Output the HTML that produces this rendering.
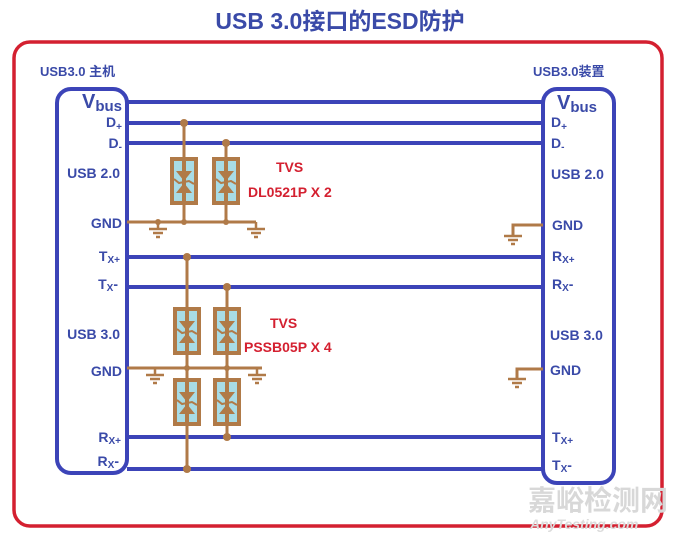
<!DOCTYPE html>
<html><head><meta charset="utf-8"><style>
html,body{margin:0;padding:0;background:#fff;width:680px;height:542px;overflow:hidden}
svg text{font-family:"Liberation Sans","Noto Sans CJK SC",sans-serif;font-weight:bold}
</style></head><body>
<svg width="680" height="542" viewBox="0 0 680 542" xmlns="http://www.w3.org/2000/svg">
<defs>
<g id="tvs">
 <rect x="-12" y="0" width="24" height="44" fill="#a8dce6" stroke="#b07a48" stroke-width="4"/>
 <rect x="-2" y="0" width="4" height="44" fill="#b07a48"/>
 <path d="M-8,12 L8,12 L0,22 Z" fill="#b07a48"/>
 <path d="M-8,34 L8,34 L0,24 Z" fill="#b07a48"/>
 <path d="M-10,20 L-5,24 L5,22 L10,25" stroke="#b07a48" stroke-width="2" fill="none"/>
</g>
<g id="gnd" stroke="#b07a48" stroke-width="2.5">
 <line x1="0" y1="0" x2="0" y2="7"/>
 <line x1="-9" y1="7" x2="9" y2="7"/>
 <line x1="-5" y1="11" x2="5" y2="11"/>
 <line x1="-2" y1="15" x2="2" y2="15"/>
</g>
</defs>
<text x="340" y="29" font-size="23" fill="#3a4aa8" text-anchor="middle">USB 3.0接口的ESD防护</text>
<rect x="14" y="42" width="648" height="484" rx="16" fill="none" stroke="#d42030" stroke-width="3.5"/>
<text x="40" y="76" font-size="13" fill="#3a4aa8">USB3.0 主机</text>
<text x="533" y="76" font-size="13" fill="#3a4aa8">USB3.0装置</text>
<rect x="57" y="89" width="70" height="384" rx="14" fill="none" stroke="#3c44b8" stroke-width="4"/>
<rect x="543" y="89" width="71" height="394" rx="14" fill="none" stroke="#3c44b8" stroke-width="4"/>
<g stroke="#3c44b8" stroke-width="4">
<line x1="127" y1="102" x2="543" y2="102"/>
<line x1="127" y1="123" x2="543" y2="123"/>
<line x1="127" y1="143" x2="543" y2="143"/>
<line x1="127" y1="257" x2="543" y2="257"/>
<line x1="127" y1="287" x2="543" y2="287"/>
<line x1="127" y1="437" x2="543" y2="437"/>
<line x1="127" y1="469" x2="543" y2="469"/>
</g>
<g stroke="#b07a48" stroke-width="3" fill="none">
<line x1="127" y1="222" x2="256" y2="222"/>
<line x1="184" y1="123" x2="184" y2="222"/>
<line x1="226" y1="143" x2="226" y2="222"/>
<line x1="127" y1="368" x2="262" y2="368"/>
<line x1="187" y1="257" x2="187" y2="469"/>
<line x1="227" y1="287" x2="227" y2="437"/>
<polyline points="543,225 513,225 513,236"/>
<polyline points="543,369 517,369 517,378"/>
</g>
<g fill="#b07a48">
<circle cx="184" cy="123" r="4"/><circle cx="226" cy="143" r="4"/>
<circle cx="184" cy="222" r="3"/><circle cx="226" cy="222" r="3"/><circle cx="158" cy="222" r="3"/>
<circle cx="187" cy="257" r="4"/><circle cx="227" cy="287" r="4"/>
<circle cx="187" cy="368" r="3"/><circle cx="227" cy="368" r="3"/>
<circle cx="227" cy="437" r="4"/><circle cx="187" cy="469" r="4"/>
</g>
<use href="#gnd" x="158" y="222"/><use href="#gnd" x="256" y="222"/>
<use href="#gnd" x="155" y="368"/><use href="#gnd" x="257" y="368"/>
<use href="#gnd" x="513" y="229"/><use href="#gnd" x="517" y="372"/>
<use href="#tvs" x="184" y="159"/><use href="#tvs" x="226" y="159"/>
<use href="#tvs" x="187" y="309"/><use href="#tvs" x="227" y="309"/>
<use href="#tvs" x="187" y="380"/><use href="#tvs" x="227" y="380"/>
<g fill="#d42030" font-size="14">
<text x="276" y="172">TVS</text><text x="248" y="197">DL0521P X 2</text>
<text x="270" y="328">TVS</text><text x="244" y="352">PSSB05P X 4</text>
</g>
<g fill="#3a4aa8" font-size="14" text-anchor="end">
<text x="122" y="108" font-size="20">V<tspan font-size="15" dy="3">bus</tspan></text>
<text x="122" y="127">D<tspan font-size="10" dy="3">+</tspan></text>
<text x="122" y="148">D<tspan font-size="10" dy="2">-</tspan></text>
<text x="120" y="178">USB 2.0</text>
<text x="122" y="228">GND</text>
<text x="120" y="261">T<tspan font-size="10" dy="2">X+</tspan></text>
<text x="118" y="289">T<tspan font-size="10" dy="2">X</tspan><tspan dy="-2">-</tspan></text>
<text x="120" y="339">USB 3.0</text>
<text x="122" y="376">GND</text>
<text x="121" y="442">R<tspan font-size="10" dy="2">X+</tspan></text>
<text x="119" y="466">R<tspan font-size="10" dy="2">X</tspan><tspan dy="-2">-</tspan></text>
</g>
<g fill="#3a4aa8" font-size="14">
<text x="557" y="109" font-size="20">V<tspan font-size="15" dy="3">bus</tspan></text>
<text x="551" y="127">D<tspan font-size="10" dy="3">+</tspan></text>
<text x="551" y="148">D<tspan font-size="10" dy="2">-</tspan></text>
<text x="551" y="179">USB 2.0</text>
<text x="552" y="230">GND</text>
<text x="552" y="261">R<tspan font-size="10" dy="2">X+</tspan></text>
<text x="552" y="289">R<tspan font-size="10" dy="2">X</tspan><tspan dy="-2">-</tspan></text>
<text x="550" y="340">USB 3.0</text>
<text x="550" y="375">GND</text>
<text x="552" y="442">T<tspan font-size="10" dy="2">X+</tspan></text>
<text x="552" y="470">T<tspan font-size="10" dy="2">X</tspan><tspan dy="-2">-</tspan></text>
</g>
<text x="528" y="510" font-size="28" fill="#d8d8d8" font-weight="normal">嘉峪检测网</text>
<text x="530" y="529" font-size="14" fill="#dcdcdc" font-style="italic" font-weight="normal">AnyTesting.com</text>
</svg>
</body></html>
